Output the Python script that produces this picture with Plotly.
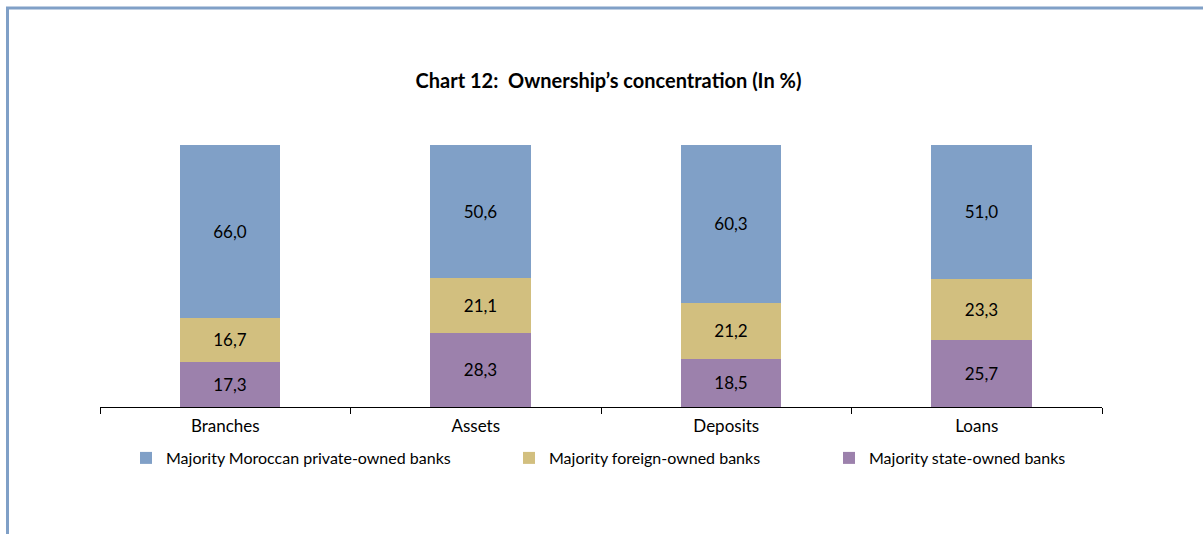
import plotly.graph_objects as go

categories = ["Branches", "Assets", "Deposits", "Loans"]
private_moroccan = [66.0, 50.6, 60.3, 51.0]
foreign_owned = [16.7, 21.1, 21.2, 23.3]
state_owned = [17.3, 28.3, 18.5, 25.7]

series = [
    ("Majority state-owned banks", state_owned, "#9c81ac", "legend3"),
    ("Majority foreign-owned banks", foreign_owned, "#d2bf7f", "legend2"),
    ("Majority Moroccan private-owned banks", private_moroccan, "#80a0c7", "legend"),
]

FONT = "Lato"

fig = go.Figure()
for name, vals, color, lg in series:
    fig.add_trace(go.Bar(
        x=categories, y=vals, name=name,
        marker=dict(color=color, line=dict(width=0)),
        width=0.402, offset=-0.182,
        text=[f"{v:.1f}".replace(".", ",") for v in vals],
        textposition="inside", insidetextanchor="middle",
        textangle=0,
        textfont=dict(family=FONT, size=17, color="black"),
        legend=lg,
    ))

W, H = 1203, 534
L, R, T, B = 100, 101, 145, 127
pw, ph = W - L - R, H - T - B


def px2x(px):
    return (px - L) / pw


def py2y(py):
    return (H - B - py) / ph


leg_common = dict(orientation="h", yanchor="middle", xanchor="left",
                  font=dict(family=FONT, size=16, color="black"),
                  bgcolor="rgba(0,0,0,0)", borderwidth=0)

fig.update_layout(
    width=W, height=H,
    margin=dict(l=L, r=R, t=T, b=B),
    paper_bgcolor="white", plot_bgcolor="white",
    barmode="stack",
    title=dict(text="<b>Chart 12:  Ownership’s concentration (In %)</b>",
               x=608.5 / W, xanchor="center", y=1 - 81 / H, yanchor="middle",
               xref="container", yref="container",
               font=dict(family=FONT, size=20, color="black")),
    xaxis=dict(showline=True, linecolor="black", linewidth=1,
               ticks="outside", ticklen=6, tickcolor="black", tickson="boundaries",
               ticklabelstandoff=4,
               tickfont=dict(family=FONT, size=17, color="black"),
               showgrid=False, zeroline=False, fixedrange=True),
    yaxis=dict(range=[0, 100], visible=False, showgrid=False, zeroline=False),
    legend=dict(x=px2x(126), y=py2y(458), **leg_common),
    legend2=dict(x=px2x(509), y=py2y(458), **leg_common),
    legend3=dict(x=px2x(829), y=py2y(458), **leg_common),
    showlegend=True,
    shapes=[
        dict(type="line", xref="paper", yref="paper",
             x0=px2x(6), x1=px2x(1203), y0=py2y(8), y1=py2y(8),
             line=dict(color="#80a0c7", width=3)),
        dict(type="line", xref="paper", yref="paper",
             x0=px2x(7.5), x1=px2x(7.5), y0=py2y(7), y1=py2y(534),
             line=dict(color="#80a0c7", width=3)),
    ],
)

fig.write_html("out.html")
